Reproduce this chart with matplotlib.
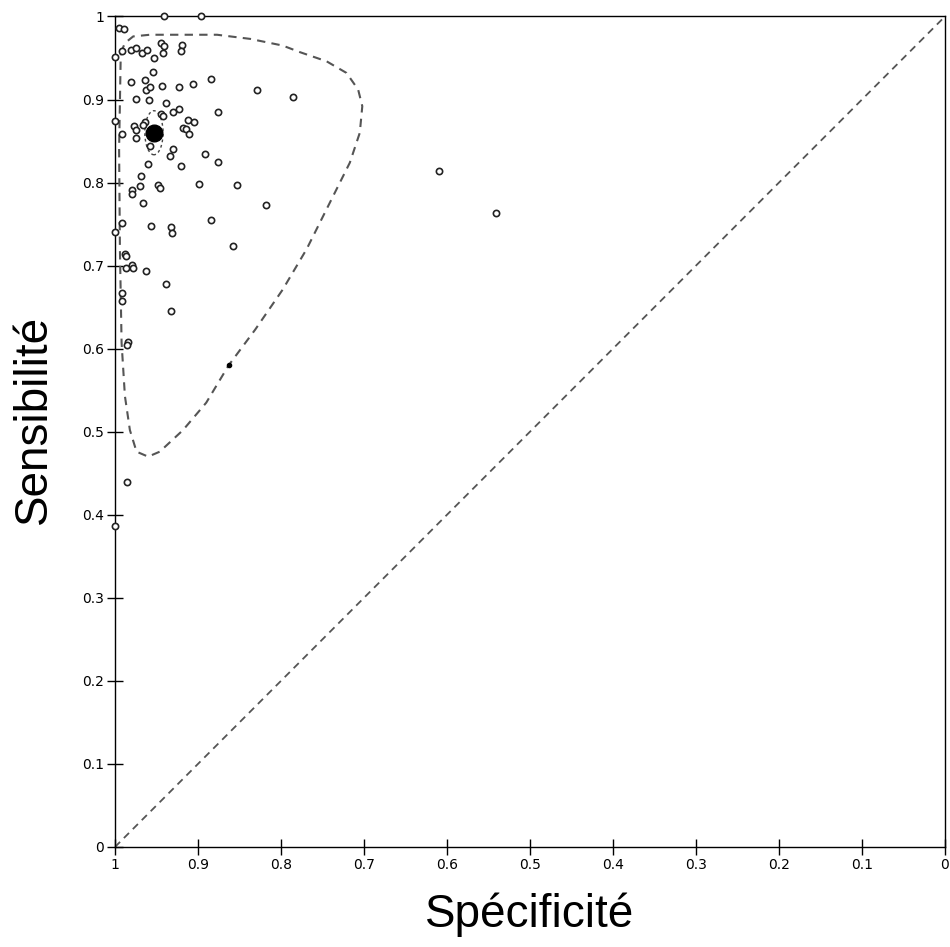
import numpy as np
import matplotlib.pyplot as plt
from matplotlib.patches import Ellipse

# study points (specificity, sensitivity)
spec = [0.941, 0.896, 0.995, 0.989, 1.000, 0.992, 0.981, 0.975, 0.967, 0.961,
        0.953, 0.944, 0.941, 0.942, 0.919, 0.920, 0.954, 0.981, 0.964, 0.962,
        0.958, 0.943, 0.923, 0.906, 0.884, 0.829, 0.785, 1.000, 0.975, 0.959,
        0.939, 0.944, 0.942, 0.930, 0.923, 0.876, 0.991, 0.977, 0.975, 0.964,
        0.966, 0.912, 0.905, 0.918, 0.914, 0.911, 0.975, 0.958, 0.930, 0.934,
        0.892, 0.960, 0.921, 0.876, 0.969, 0.970, 0.979, 0.980, 0.948, 0.946,
        0.899, 0.853, 0.966, 0.818, 0.991, 1.000, 0.957, 0.933, 0.931, 0.884,
        0.858, 0.988, 0.987, 0.987, 0.980, 0.978, 0.962, 0.939, 0.991, 0.991,
        0.933, 0.984, 0.986, 0.986, 1.000, 0.610, 0.541]
sens = [1.000, 1.000, 0.986, 0.985, 0.951, 0.958, 0.960, 0.962, 0.956, 0.960,
        0.950, 0.968, 0.964, 0.956, 0.966, 0.959, 0.933, 0.921, 0.924, 0.912,
        0.915, 0.916, 0.915, 0.919, 0.925, 0.911, 0.903, 0.874, 0.901, 0.899,
        0.896, 0.882, 0.880, 0.885, 0.888, 0.885, 0.859, 0.868, 0.863, 0.873,
        0.869, 0.875, 0.873, 0.866, 0.864, 0.859, 0.854, 0.844, 0.840, 0.832,
        0.835, 0.822, 0.820, 0.825, 0.808, 0.796, 0.791, 0.786, 0.797, 0.793,
        0.798, 0.797, 0.775, 0.773, 0.751, 0.740, 0.748, 0.747, 0.739, 0.755,
        0.724, 0.714, 0.711, 0.697, 0.701, 0.697, 0.693, 0.678, 0.667, 0.658,
        0.645, 0.608, 0.604, 0.440, 0.387, 0.814, 0.763]

# small filled point on the contour
extra_spec, extra_sens = [0.863], [0.580]

# summary point and its confidence region
summ_spec, summ_sens = 0.953, 0.860
conf_w, conf_h = 0.022, 0.053

# prediction region outline
pred_spec = [0.993, 0.988, 0.978, 0.958, 0.877, 0.837, 0.798, 0.777, 0.745, 0.721,
             0.707, 0.702, 0.705, 0.717, 0.737, 0.769, 0.798, 0.831, 0.863, 0.890,
             0.918, 0.946, 0.960, 0.974, 0.982, 0.988, 0.992, 0.994, 0.995, 0.993]
pred_sens = [0.956, 0.968, 0.976, 0.978, 0.978, 0.973, 0.965, 0.957, 0.946, 0.932,
             0.912, 0.892, 0.860, 0.824, 0.784, 0.720, 0.671, 0.623, 0.580, 0.535,
             0.502, 0.476, 0.470, 0.476, 0.502, 0.543, 0.607, 0.719, 0.840, 0.956]

ticks = np.round(np.arange(0, 1.01, 0.1), 1)
tick_labels = ["0", "0.1", "0.2", "0.3", "0.4", "0.5", "0.6", "0.7", "0.8", "0.9", "1"]

fig = plt.figure(figsize=(9.5, 9.47), dpi=100)
ax = fig.add_axes([0.121, 0.1056, 0.8737, 0.877])

ax.plot([1, 0], [0, 1], '--', color='#555555', lw=1.3, dashes=(4, 3))
ax.plot(pred_spec, pred_sens, '--', color='#555555', lw=1.5, dashes=(4, 3))
ax.add_patch(Ellipse((summ_spec, summ_sens), conf_w, conf_h, fill=False,
                     ls=(0, (2, 2)), ec='#444444', lw=1.0))

ax.plot(spec, sens, 'o', ms=4.5, mfc='white', mec='#222222', mew=1.2, clip_on=False, zorder=5)
ax.plot(extra_spec, extra_sens, 'o', ms=3, color='black', zorder=5)
ax.plot([summ_spec], [summ_sens], 'o', ms=12, color='black', zorder=6)

ax.set_xlim(1, 0)
ax.set_ylim(0, 1)
ax.set_xticks(ticks)
ax.set_xticklabels(tick_labels)
ax.set_yticks(ticks)
ax.set_yticklabels(tick_labels)
ax.tick_params(direction='inout', length=12, width=1, labelsize=10, pad=2)
for s in ax.spines.values():
    s.set_linewidth(1)

ax.set_xlabel("Spécificité", fontsize=33, family='Liberation Sans', labelpad=15)
ax.set_ylabel("Sensibilité", fontsize=33, family='Liberation Sans')
ax.yaxis.set_label_coords(-0.071, 0.515)

fig.savefig("out.png", dpi=100)
